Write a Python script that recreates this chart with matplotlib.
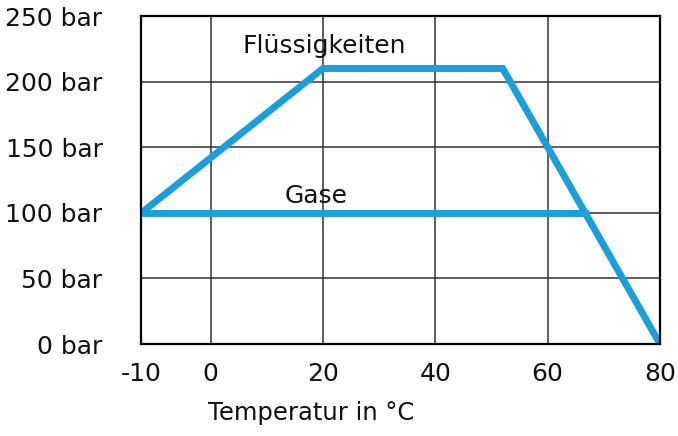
import numpy as np
import matplotlib
matplotlib.use('Agg')
import matplotlib.pyplot as plt

# data
fluessig_t = [-10, 20, 52, 80]
fluessig_p = [100, 210, 210, 0]
gase_t = [-10, 66.7]
gase_p = [100, 100]

x_ticks = [-10, 0, 20, 40, 60, 80]
y_ticks = [0, 50, 100, 150, 200, 250]
y_labels = [f'{v} bar' for v in y_ticks]

blue = '#1a9fdb'

# the segment below 0 °C is drawn wider than the rest
def fwd(x):
    x = np.asarray(x, dtype=float)
    return np.where(x < 0, x * 1.23, x)

def inv(x):
    x = np.asarray(x, dtype=float)
    return np.where(x < 0, x / 1.23, x)

plt.rcParams['font.family'] = ['DejaVu Sans']

fig = plt.figure(figsize=(6.78, 4.36), dpi=100)
ax = fig.add_axes([0.2087, 0.211, 0.7648, 0.7523])
ax.set_xscale('function', functions=(fwd, inv))

ax.plot(fluessig_t, fluessig_p, color=blue, lw=5, solid_joinstyle='miter', zorder=3)
ax.plot(gase_t, gase_p, color=blue, lw=5, solid_joinstyle='miter', zorder=3)

ax.set_xlim(-10, 80)
ax.set_ylim(0, 250)
ax.set_xticks(x_ticks)
ax.set_xticklabels([str(v) for v in x_ticks])
ax.set_yticks(y_ticks)
ax.set_yticklabels(y_labels)
ax.tick_params(length=0, labelsize=18, colors='#111111')
ax.tick_params(axis='y', pad=28)
ax.tick_params(axis='x', pad=13)

ax.grid(True, color='#333333', lw=1.1)
for s in ax.spines.values():
    s.set_linewidth(1.6)
    s.set_color('black')
    s.set_zorder(4)

ax.text(20.3, 227, 'Flüssigkeiten', fontsize=18, ha='center', va='center', color='#111111')
ax.text(18.8, 113, 'Gase', fontsize=18, ha='center', va='center', color='#111111')

ax.set_xlabel('Temperatur in °C', fontsize=17.5, color='#111111')
ax.xaxis.set_label_coords(0.327, -0.175)

fig.savefig('out.png', dpi=100)
